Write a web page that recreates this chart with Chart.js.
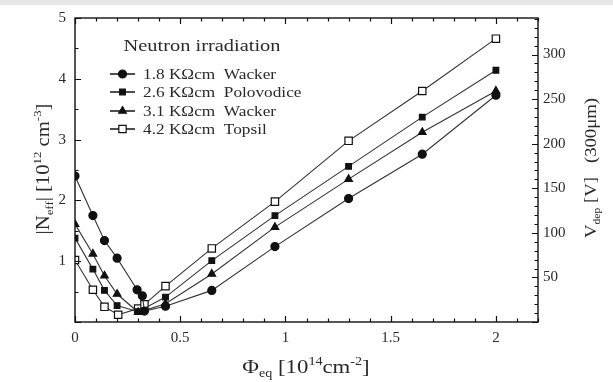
<!DOCTYPE html>
<html>
<head>
<meta charset="utf-8">
<script src="https://cdn.jsdelivr.net/npm/chart.js@4/dist/chart.umd.min.js"></script>
<style>
  html, body { margin: 0; padding: 0; background: #fff; }
  #wrap { width: 613px; height: 382px; position: relative; }
</style>
</head>
<body>
<div id="wrap"><canvas id="c" width="613" height="382"></canvas></div>
<script>
// Equivalent fluence [1e14 cm^-2] and |Neff| [1e12 cm^-3] per sample
const phiWacker18 = [0, 0.085, 0.14, 0.2, 0.295, 0.32, 0.33, 0.43, 0.65, 0.95, 1.3, 1.65, 2.0];
const neffWacker18 = [2.4, 1.75, 1.34, 1.05, 0.53, 0.43, 0.18, 0.26, 0.52, 1.24, 2.03, 2.76, 3.73];

const phiPolovodice26 = [0, 0.085, 0.14, 0.2, 0.3, 0.43, 0.65, 0.95, 1.3, 1.65, 2.0];
const neffPolovodice26 = [1.38, 0.87, 0.52, 0.27, 0.17, 0.41, 1.01, 1.75, 2.56, 3.37, 4.14];

const phiWacker31 = [0, 0.085, 0.14, 0.2, 0.3, 0.43, 0.65, 0.95, 1.3, 1.65, 2.0];
const neffWacker31 = [1.61, 1.12, 0.76, 0.46, 0.16, 0.30, 0.79, 1.56, 2.35, 3.12, 3.80];

const phiTopsil42 = [0, 0.085, 0.14, 0.205, 0.3, 0.33, 0.43, 0.65, 0.95, 1.3, 1.65, 2.0];
const neffTopsil42 = [1.02, 0.53, 0.25, 0.12, 0.22, 0.29, 0.59, 1.21, 1.98, 2.98, 3.80, 4.66];

const seriesLabels = ['1.8 K\u03A9cm  Wacker', '2.6 K\u03A9cm  Polovodice', '3.1 K\u03A9cm  Wacker', '4.2 K\u03A9cm  Topsil'];
const legendTitle = 'Neutron irradiation';

// Axis ticks
const xTickValues = [0, 0.5, 1, 1.5, 2];
const xTickLabels = ['0', '0.5', '1', '1.5', '2'];
const yTickValues = [1, 2, 3, 4, 5];
const yTickLabels = ['1', '2', '3', '4', '5'];
const vTickValues = [50, 100, 150, 200, 250, 300];
const vTickLabels = ['50', '100', '150', '200', '250', '300'];

const SERIF = '"Liberation Serif", "DejaVu Serif", serif';
const INK = '#2a2a2a';

function toPoints(xs, ys) { return xs.map((x, i) => ({ x: x, y: ys[i] })); }

const markerStyles = [
  { style: 'circle',   r: 4.0, fill: '#111', stroke: '#111' },
  { style: 'rect',     r: 4.0, fill: '#111', stroke: '#111' },
  { style: 'triangle', r: 4.4, fill: '#111', stroke: '#111' },
  { style: 'rect',     r: 5.2, fill: '#fff', stroke: '#111' }
];

const seriesData = [
  toPoints(phiWacker18, neffWacker18),
  toPoints(phiPolovodice26, neffPolovodice26),
  toPoints(phiWacker31, neffWacker31),
  toPoints(phiTopsil42, neffTopsil42)
];

const datasets = seriesData.map((d, i) => ({
  label: seriesLabels[i],
  data: d,
  showLine: true,
  borderColor: '#333',
  borderWidth: 1.1,
  pointStyle: markerStyles[i].style,
  pointRadius: markerStyles[i].r,
  pointBackgroundColor: markerStyles[i].fill,
  pointBorderColor: markerStyles[i].stroke,
  pointBorderWidth: 1.2,
  yAxisID: 'y'
}));

// Text with sub/superscripts, optionally stretched horizontally
function richWidth(ctx, parts, size, sx) {
  let w = 0;
  parts.forEach(p => {
    const s = p.sub || p.sup ? size * 0.62 : size;
    ctx.font = s + 'px ' + SERIF;
    w += ctx.measureText(p.t).width;
  });
  return w * sx;
}
function drawRich(ctx, parts, cx, baseY, size, sx) {
  const w = richWidth(ctx, parts, size, sx);
  let x = cx - w / 2;
  ctx.fillStyle = INK;
  ctx.textBaseline = 'alphabetic';
  ctx.textAlign = 'left';
  parts.forEach(p => {
    const s = p.sub || p.sup ? size * 0.62 : size;
    const dy = p.sub ? size * 0.22 : (p.sup ? -size * 0.42 : 0);
    ctx.font = s + 'px ' + SERIF;
    ctx.save();
    ctx.translate(x, baseY + dy);
    ctx.scale(sx, 1);
    ctx.fillText(p.t, 0, 0);
    ctx.restore();
    x += ctx.measureText(p.t).width * sx;
  });
}

function drawMarker(ctx, m, x, y) {
  ctx.save();
  ctx.fillStyle = m.fill;
  ctx.strokeStyle = m.stroke;
  ctx.lineWidth = 1.2;
  ctx.beginPath();
  if (m.style === 'circle') {
    ctx.arc(x, y, m.r, 0, Math.PI * 2);
  } else if (m.style === 'rect') {
    const s = m.r * Math.SQRT1_2;
    ctx.rect(x - s, y - s, 2 * s, 2 * s);
  } else {
    const r = m.r;
    ctx.moveTo(x, y - r);
    ctx.lineTo(x + r * 0.866, y + r * 0.5);
    ctx.lineTo(x - r * 0.866, y + r * 0.5);
    ctx.closePath();
  }
  ctx.fill();
  ctx.stroke();
  ctx.restore();
}

const frameAndDecor = {
  id: 'frameAndDecor',
  beforeDraw(chart) {
    const ctx = chart.ctx;
    ctx.save();
    ctx.fillStyle = '#fff';
    ctx.fillRect(0, 0, chart.width, chart.height);
    ctx.fillStyle = '#e6e6e6';
    ctx.fillRect(0, 0, chart.width, 5);
    ctx.restore();
  },
  afterDraw(chart) {
    const ctx = chart.ctx;
    const a = chart.chartArea;
    const xs = chart.scales.x, ys = chart.scales.y, vs = chart.scales.v;
    ctx.save();
    ctx.strokeStyle = '#111';
    ctx.lineWidth = 1.4;
    ctx.strokeRect(a.left, a.top, a.right - a.left, a.bottom - a.top);

    ctx.lineWidth = 1.2;
    ctx.beginPath();
    // bottom & top ticks, pointing inward
    for (let k = 0; k <= 22; k++) {
      const v = k / 10;
      const px = Math.round(xs.getPixelForValue(v)) + 0.5;
      const len = k % 5 === 0 ? 6 : 3.5;
      ctx.moveTo(px, a.bottom); ctx.lineTo(px, a.bottom - len);
      ctx.moveTo(px, a.top); ctx.lineTo(px, a.top + len);
    }
    // left ticks
    for (let k = 0; k <= 10; k++) {
      const v = k / 2;
      const py = Math.round(ys.getPixelForValue(v)) + 0.5;
      const len = k % 2 === 0 ? 6 : 3.5;
      ctx.moveTo(a.left, py); ctx.lineTo(a.left + len, py);
    }
    // right ticks (voltage)
    for (let v = 0; v <= 340; v += 10) {
      const py = Math.round(vs.getPixelForValue(v)) + 0.5;
      const len = v % 50 === 0 ? 6 : 3.5;
      ctx.moveTo(a.right, py); ctx.lineTo(a.right - len, py);
    }
    ctx.stroke();
    ctx.restore();

    // axis titles
    drawRich(ctx, [{ t: '\u03A6' }, { t: 'eq', sub: true }, { t: ' [10' }, { t: '14', sup: true }, { t: 'cm' }, { t: '-2', sup: true }, { t: ']' }],
      306, 373, 19, 1.2);

    ctx.save();
    ctx.translate(49, 169);
    ctx.rotate(-Math.PI / 2);
    drawRich(ctx, [{ t: '|N' }, { t: 'eff', sub: true }, { t: '| [10' }, { t: '12', sup: true }, { t: ' cm' }, { t: '-3', sup: true }, { t: ']' }],
      0, 0, 18, 1.15);
    ctx.restore();

    ctx.save();
    ctx.translate(596, 168);
    ctx.rotate(-Math.PI / 2);
    drawRich(ctx, [{ t: 'V' }, { t: 'dep', sub: true }, { t: ' [V]   (300\u03BCm)' }],
      0, 0, 17, 1.1);
    ctx.restore();

    // legend box content
    drawRich(ctx, [{ t: legendTitle }], 202, 51, 17, 1.2);
    const rowY = [74, 92, 111, 129];
    chart.data.datasets.forEach((ds, i) => {
      const y = rowY[i];
      ctx.save();
      ctx.strokeStyle = '#222';
      ctx.lineWidth = 1.6;
      ctx.beginPath();
      ctx.moveTo(110, y); ctx.lineTo(135, y);
      ctx.stroke();
      ctx.restore();
      drawMarker(ctx, markerStyles[i], 122.5, y);
      ctx.save();
      ctx.font = '15px ' + SERIF;
      ctx.fillStyle = INK;
      ctx.textBaseline = 'middle';
      ctx.textAlign = 'left';
      ctx.translate(143, y + 1);
      ctx.scale(1.15, 1);
      ctx.fillText(ds.label, 0, 0);
      ctx.restore();
    });
  }
};

function fixedTicks(values) {
  return function (scale) { scale.ticks = values.map(v => ({ value: v })); };
}
function labelFor(values, labels) {
  return function (v) { const i = values.indexOf(v); return i >= 0 ? labels[i] : ''; };
}

const tickFont = { family: SERIF, size: 15 };

new Chart(document.getElementById('c'), {
  type: 'scatter',
  data: { datasets: datasets },
  plugins: [frameAndDecor],
  options: {
    responsive: false,
    animation: false,
    layout: { padding: { top: 14, left: 0, right: 0, bottom: 0 } },
    plugins: { legend: { display: false }, tooltip: { enabled: false } },
    scales: {
      x: {
        type: 'linear', position: 'bottom', min: 0, max: 2.2,
        grid: { display: false, drawTicks: false },
        border: { display: false },
        afterBuildTicks: fixedTicks(xTickValues),
        afterFit(s) { s.height = 60; },
        ticks: { color: INK, font: tickFont, padding: 7, maxRotation: 0, autoSkip: false,
                 callback: labelFor(xTickValues, xTickLabels) }
      },
      y: {
        type: 'linear', position: 'left', min: 0, max: 5,
        grid: { display: false, drawTicks: false },
        border: { display: false },
        afterBuildTicks: fixedTicks(yTickValues),
        afterFit(s) { s.width = 75; },
        ticks: { color: INK, font: tickFont, padding: 9, autoSkip: false,
                 callback: labelFor(yTickValues, yTickLabels) }
      },
      v: {
        type: 'linear', position: 'right', min: 0, max: 341, display: true,
        grid: { display: false, drawTicks: false },
        border: { display: false },
        afterBuildTicks: fixedTicks(vTickValues),
        afterFit(s) { s.width = 75; },
        ticks: { color: INK, font: tickFont, padding: 5, autoSkip: false,
                 callback: labelFor(vTickValues, vTickLabels) }
      }
    }
  }
});
</script>
</body>
</html>
